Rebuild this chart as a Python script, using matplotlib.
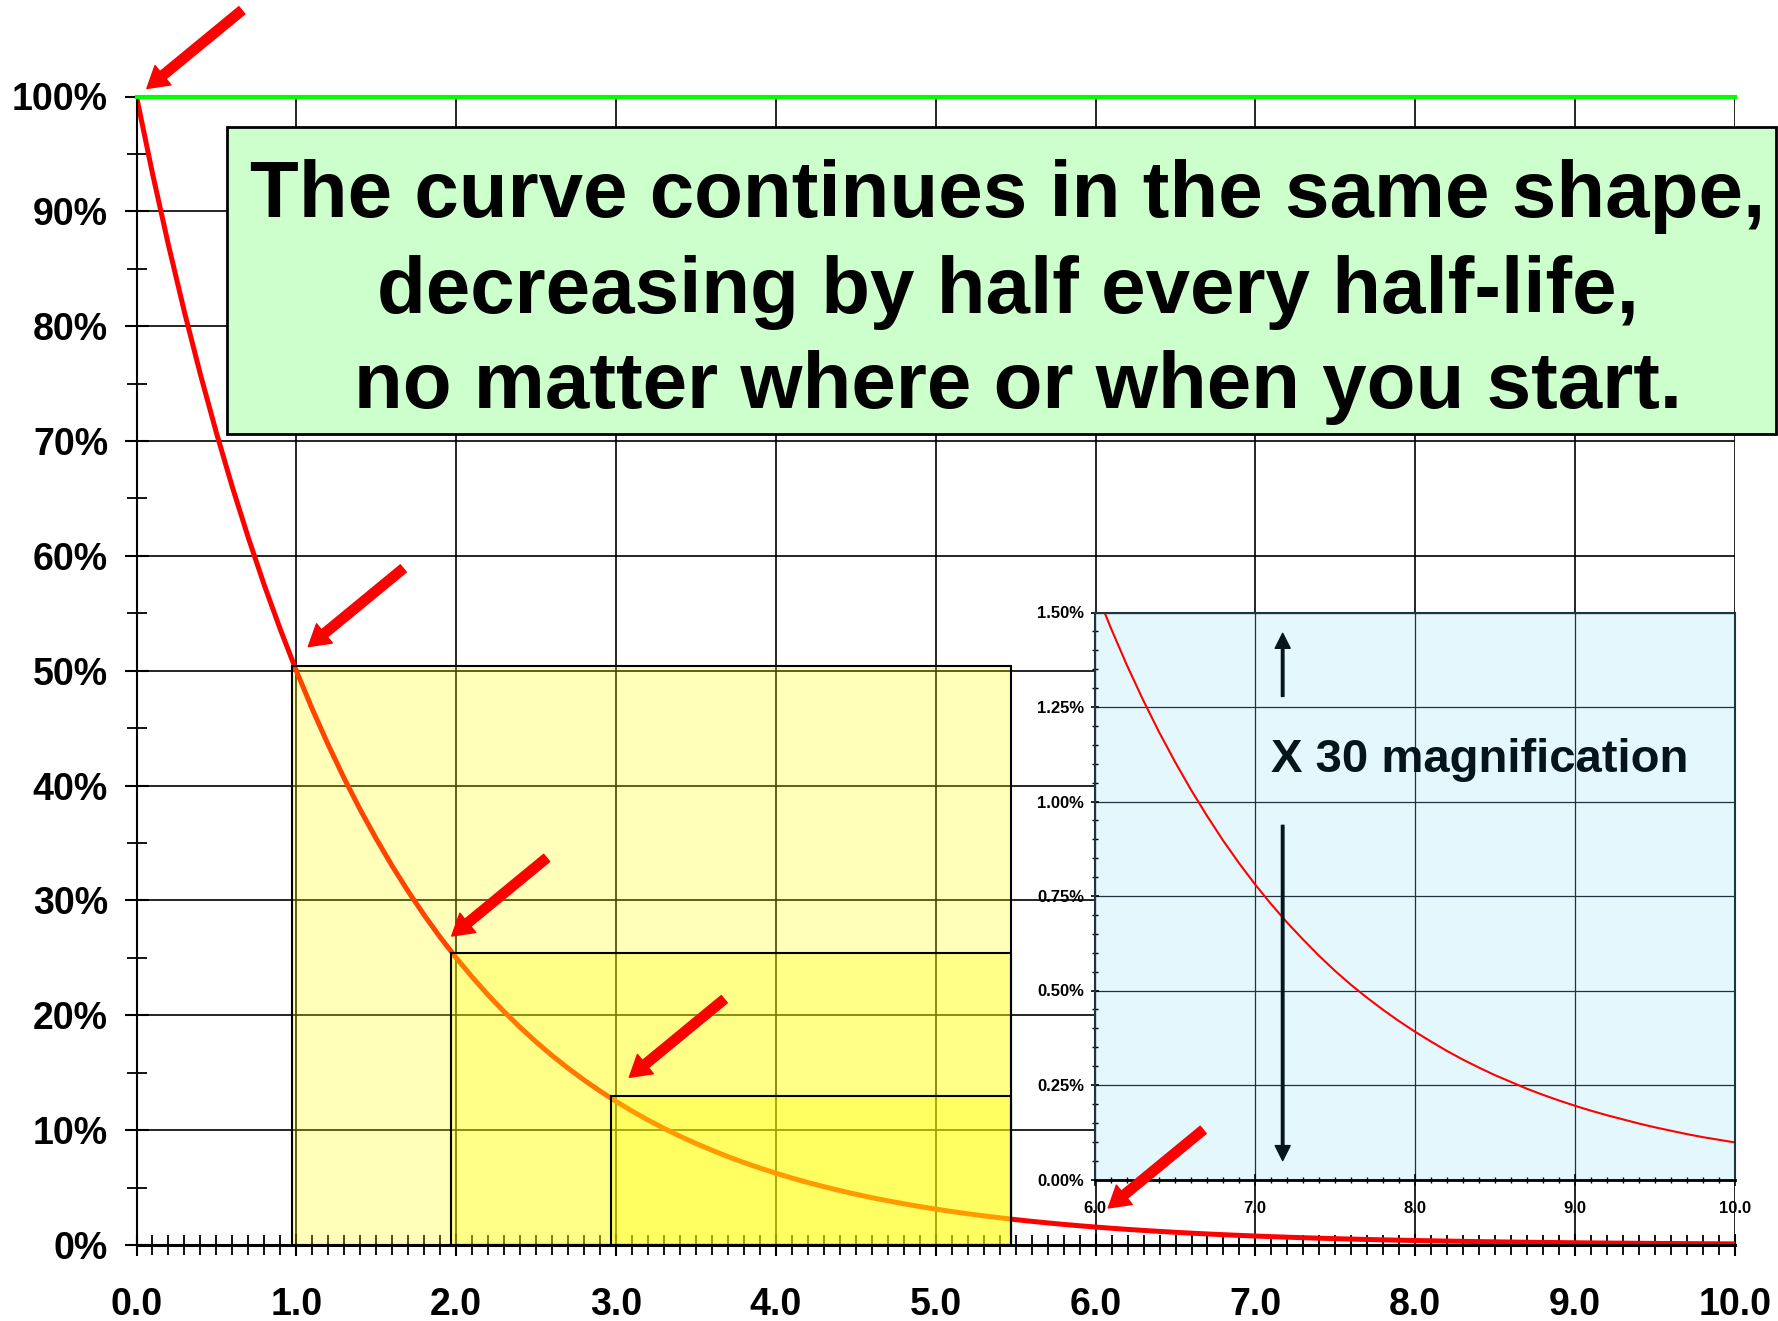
import numpy as np
import matplotlib.pyplot as plt
from matplotlib.patches import Rectangle, FancyArrowPatch
from matplotlib.ticker import MultipleLocator

plt.rcParams['font.family'] = ['Liberation Sans', 'DejaVu Sans']
plt.rcParams['font.weight'] = 'bold'

# time in half-lives (0.1 steps) and amount remaining, % of the start
half_lives = np.linspace(0, 10, 101)
remaining_pct = [
    100.0, 93.30, 87.06, 81.23, 75.79, 70.71, 65.98, 61.56, 57.43, 53.59,
    50.00, 46.65, 43.53, 40.61, 37.89, 35.36, 32.99, 30.78, 28.72, 26.79,
    25.00, 23.33, 21.76, 20.31, 18.95, 17.68, 16.49, 15.39, 14.36, 13.40,
    12.50, 11.66, 10.88, 10.15, 9.47, 8.84, 8.25, 7.69, 7.18, 6.70,
    6.25, 5.83, 5.44, 5.08, 4.74, 4.42, 4.12, 3.85, 3.59, 3.35,
    3.125, 2.916, 2.720, 2.538, 2.368, 2.210, 2.062, 1.924, 1.795, 1.675,
    1.5625, 1.458, 1.360, 1.269, 1.184, 1.105, 1.031, 0.962, 0.897, 0.837,
    0.781, 0.729, 0.680, 0.635, 0.592, 0.552, 0.515, 0.481, 0.449, 0.419,
    0.391, 0.365, 0.340, 0.317, 0.296, 0.276, 0.258, 0.240, 0.224, 0.209,
    0.195, 0.182, 0.170, 0.159, 0.148, 0.138, 0.129, 0.120, 0.112, 0.105,
    0.098,
]

# shaded boxes start at these half-lives and run out to box_end
box_start = [1, 2, 3]
box_end = 5.47
# red pointers mark these half-lives
arrow_at = [0, 1, 2, 3, 6]
arrow_tip_shift = [(0.065, 0.7), (0.075, 2.1), (-0.028, 1.9), (0.083, 2.1), (0.079, 1.66)]

x_ticks = list(range(0, 11))
x_labels = [f'{v:.1f}' for v in x_ticks]
y_ticks = list(range(0, 101, 10))
y_labels = [f'{v}%' for v in y_ticks]
inset_x_ticks = [6, 7, 8, 9, 10]
inset_x_labels = [f'{v:.1f}' for v in inset_x_ticks]
inset_y_ticks = [0, 0.25, 0.5, 0.75, 1.0, 1.25, 1.5]
inset_y_labels = [f'{v:.2f}%' for v in inset_y_ticks]

message = ["The curve continues in the same shape,",
           "decreasing by half every half-life,",
           "no matter where or when you start."]
zoom_note = "X 30 magnification"

W, H = 1778, 1321
fig = plt.figure(figsize=(W / 100, H / 100), dpi=100)
narrow = ['Liberation Sans Narrow', 'Liberation Sans', 'DejaVu Sans']

def value_at(t):
    return remaining_pct[int(round(t * 10))]

# ------ main chart ------
ax = fig.add_axes([136.5 / W, 1 - 1245 / H, (1735 - 136.5) / W, (1245 - 96.5) / H])
ax.set_xlim(0, 10)
ax.set_ylim(0, 100)
ax.set_axisbelow(True)
ax.grid(True, which='major', color='black', lw=1.2)

ax.plot(half_lives, remaining_pct, color='red', lw=3.6, zorder=2)
ax.axhline(100, color='#00ff00', lw=3, zorder=4, clip_on=False)

for t in box_start:
    x0 = t - 0.03
    ax.add_patch(Rectangle((x0, 0), box_end - x0, value_at(t) + 0.45,
                           facecolor=(1, 1, 0, 0.27), edgecolor='black',
                           lw=1.5, zorder=3))

ax.spines['top'].set_visible(False)
ax.spines['right'].set_visible(False)
ax.spines['left'].set_linewidth(1.5)
ax.spines['bottom'].set_linewidth(2.2)

ax.set_xticks(x_ticks, x_labels)
ax.set_yticks(y_ticks, y_labels)
ax.xaxis.set_minor_locator(MultipleLocator(0.1))
ax.yaxis.set_minor_locator(MultipleLocator(5))
ax.tick_params(axis='x', which='major', direction='inout', length=16, width=1.5,
               pad=22, labelsize=27)
ax.tick_params(axis='x', which='minor', direction='inout', length=14, width=1.3)
ax.tick_params(axis='y', which='major', direction='inout', length=17, width=1.5,
               pad=12, labelsize=27)
ax.tick_params(axis='y', which='minor', direction='inout', length=14, width=1.3)

# ------ magnified inset ------
ins = fig.add_axes([1095 / W, 1 - 1179.5 / H, (1735 - 1095) / W, (1179.5 - 612.5) / H])
ins.set_facecolor('#e4f7fd')
ins.set_xlim(6, 10)
ins.set_ylim(0, 1.5)
ins.set_axisbelow(True)
ins.grid(True, which='major', color='#1e3440', lw=0.9)
ins.plot(half_lives, remaining_pct, color='red', lw=1.5)

ins.set_xticks(inset_x_ticks, inset_x_labels)
ins.set_yticks(inset_y_ticks, inset_y_labels)
ins.xaxis.set_minor_locator(MultipleLocator(0.1))
ins.yaxis.set_minor_locator(MultipleLocator(0.05))
ins.tick_params(axis='x', which='major', direction='inout', length=9, width=1.2,
                pad=11, labelsize=12)
ins.tick_params(axis='x', which='minor', direction='inout', length=5, width=1)
ins.tick_params(axis='y', which='major', direction='inout', length=6, width=1.2,
                pad=5, labelsize=12)
ins.tick_params(axis='y', which='minor', direction='inout', length=5, width=1)
for lbl in ins.get_xticklabels() + ins.get_yticklabels():
    lbl.set_family(narrow)
for side in ['top', 'right', 'left']:
    ins.spines[side].set_color('#1e3440')
    ins.spines[side].set_linewidth(1.5)
ins.spines['bottom'].set_linewidth(2)

ins.text(7.098, 1.078, zoom_note, fontsize=34, fontweight='bold', color='#06141c',
         va='baseline', ha='left')
dark_arrow = dict(arrowstyle='simple,head_length=0.54,head_width=0.54,tail_width=0.09',
                  mutation_scale=20, color='#06141c', shrinkA=0, shrinkB=0)
ins.annotate('', xy=(7.173, 1.445), xytext=(7.173, 1.278), arrowprops=dark_arrow)
ins.annotate('', xy=(7.173, 0.05), xytext=(7.173, 0.937), arrowprops=dark_arrow)

# ------ red pointers (drawn on the figure so they sit above the inset) ------
for t, (sx, sy) in zip(arrow_at, arrow_tip_shift):
    tip = (t + sx, value_at(t) + sy)
    tail = (tip[0] + 0.594, tip[1] + 6.8)
    fig.add_artist(FancyArrowPatch(tail, tip, transform=ax.transData,
                                   arrowstyle='simple,head_length=0.75,head_width=0.9,tail_width=0.34',
                                   mutation_scale=20, color='red', zorder=7,
                                   shrinkA=0, shrinkB=0))

# ------ message box ------
fig.add_artist(Rectangle((227 / W, 1 - 434 / H), (1776 - 227) / W, (434 - 127) / H,
                         transform=fig.transFigure, facecolor='#ccffcc',
                         edgecolor='black', lw=2, zorder=5))
for line, base, cx in zip(message, [217.3, 312.7, 408.3], [1008, 1008, 1018]):
    fig.text(cx / W, 1 - base / H, line, ha='center', va='baseline',
             fontsize=57.5, fontweight='bold', color='black', zorder=6)

fig.savefig('out.png', dpi=100)
